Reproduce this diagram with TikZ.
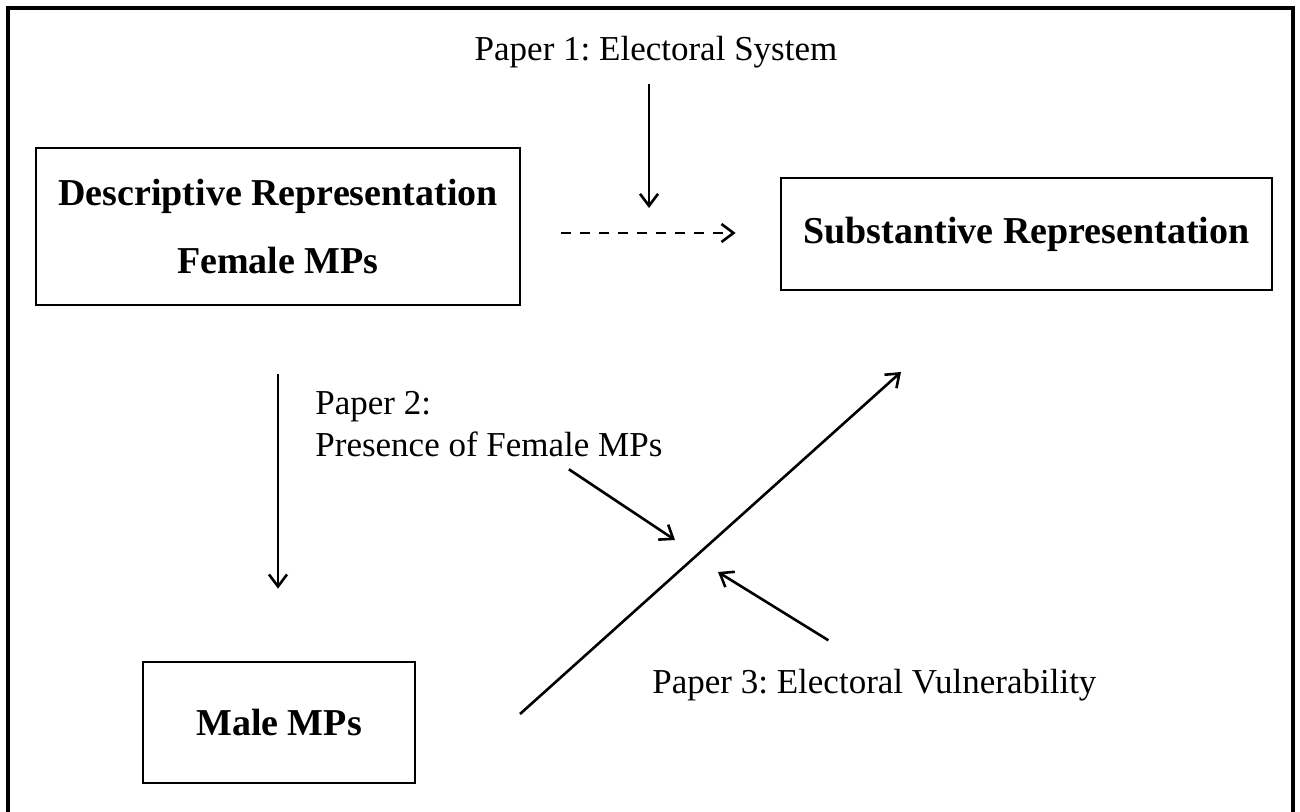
\documentclass[tikz,border=0pt]{standalone}
\usepackage{fontspec}
\setmainfont{Liberation Serif}
\frenchspacing
\usetikzlibrary{arrows.meta}
\tikzset{
  concept/.style={draw, line width=1.4pt, font=\fontsize{19}{34}\selectfont\bfseries, align=center, inner sep=0pt},
  paper/.style={font=\fontsize{17.5}{21}\selectfont, inner sep=0pt},
  link/.style={-{Straight Barb[length=6pt,width=9pt]}, line width=1.3pt}
}
\begin{document}
\begin{tikzpicture}[x=0.5pt, y=0.5pt]
  \useasboundingbox (0,0) rectangle (1300,811);
  \draw [line width=1.8pt] (8,-10) rectangle (1293,803);
  % boxes
  \node [concept, minimum width=242pt, minimum height=78.5pt] (desc) at (278,584.5) {Descriptive Representation\\Female MPs};
  \node [concept, minimum width=245.5pt, minimum height=56pt] (subst) at (1026.5,577) {Substantive Representation};
  \node [concept, minimum width=136pt, minimum height=60.5pt] (male) at (279,88.5) {Male MPs};
  % papers
  \node [paper, anchor=base] (p1) at (656,751) {Paper 1: Electoral System};
  \node [paper, anchor=north west, align=left] (p2) at (315,420) {Paper 2:\\Presence of Female MPs};
  \node [paper, anchor=base west] (p3) at (652,118) {Paper 3: Electoral Vulnerability};
  % free ends
  \coordinate (p1end) at (649,603);
  \coordinate (diagstart) at (520,97);
  \coordinate (diagend) at (901,439);
  \coordinate (p2end) at (675,271);
  \coordinate (p3end) at (718,239);
  % arrows
  \draw [link, shorten <=8pt] (p1.south -| p1end) -- (p1end);
  \draw [link, dash pattern=on 5pt off 4.5pt, shorten <=20pt, shorten >=22pt] ([yshift=-3.25pt]desc.east) -- ([yshift=0.5pt]subst.west);
  \draw [link, shorten <=34pt, shorten >=36pt] (desc.south) -- (desc.south |- male.north);
  \draw [link] (diagstart) -- (diagend);
  \draw [link] ([xshift=40pt,yshift=-6pt]p2.south) -- (p2end);
  \draw [link] ([xshift=-23pt,yshift=14pt]p3.north) -- (p3end);
\end{tikzpicture}
\end{document}
